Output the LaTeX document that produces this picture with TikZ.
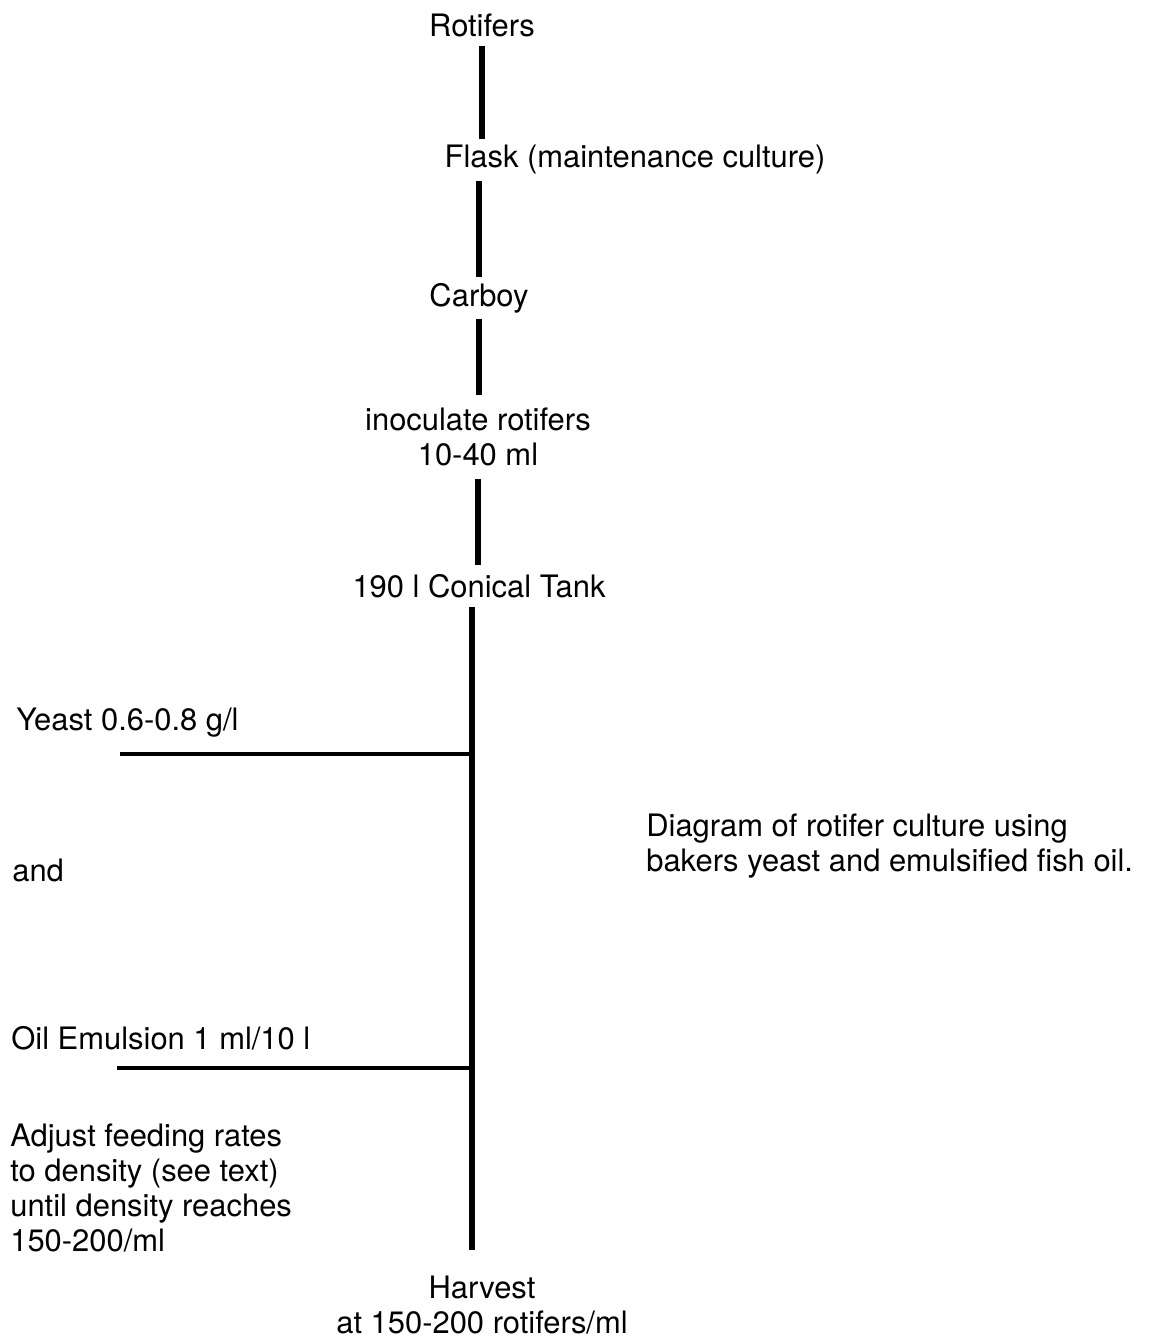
\documentclass[tikz,border=0pt]{standalone}
\usepackage{fontspec}
\setmainfont{TeX Gyre Heros}
\usetikzlibrary{positioning}

\tikzset{
  lbl/.style={inner sep=0pt, minimum height=0.84cm, font=\fontsize{17.6}{20}\selectfont},
  txt/.style={inner sep=0pt, align=left, font=\fontsize{17.6}{20}\selectfont},
  stem/.style={line width=3pt},
  feed/.style={line width=1.8pt}
}

\begin{document}
\begin{tikzpicture}[x=0.02cm, y=-0.02cm]
		\useasboundingbox (0,0) rectangle (1150,1341);

		% main chain
		\node[lbl] (rot) at (482,25) {Rotifers};
		\node[lbl] (flask) at (635,160) {Flask (maintenance culture)};
		\node[lbl] (carboy) at (479,298) {Carboy};
		\node[lbl, align=center, minimum height=1.66cm] (inoc) at (478,437) {inoculate rotifers\\10-40 ml};
		\node[lbl] (tank) at (479,586) {190 l Conical Tank};
		\node[lbl, align=center, inner ysep=0.52cm] (harv) at (482,1305) {Harvest\\at 150-200 rotifers/ml};

		\draw[stem] (rot.south) -- (rot.south |- flask.north);
		\draw[stem] (flask.south -| carboy) -- (carboy.north);
		\draw[stem] (carboy.south) -- (carboy.south |- inoc.north);
		\draw[stem] (inoc.south) -- (inoc.south |- tank.north);
		\draw[stem] ([xshift=-4pt]tank.south) -- ([xshift=-4pt]tank.south |- harv.north);

		% feeding
		\node[txt, anchor=west] (yeast) at (16,723) {Yeast 0.6-0.8 g/l};
		\node[txt, anchor=west] (and) at (12,870) {and};
		\node[txt, anchor=west] (oil) at (11,1038) {Oil Emulsion 1 ml/10 l};
		\node[txt, anchor=north west] (adj) at (10,1123) {Adjust feeding rates\\to density (see text)\\until density reaches\\150-200/ml};

		\coordinate (y0) at (120,754);
		\coordinate (o0) at (117,1068);
		\draw[feed] (y0) -- ([xshift=-4pt]y0 -| tank.south);
		\draw[feed] (o0) -- ([xshift=-4pt]o0 -| tank.south);

		\node[txt, anchor=west] (note) at (646,846) {Diagram of rotifer culture using\\bakers yeast and emulsified fish oil.};
\end{tikzpicture}
\end{document}
